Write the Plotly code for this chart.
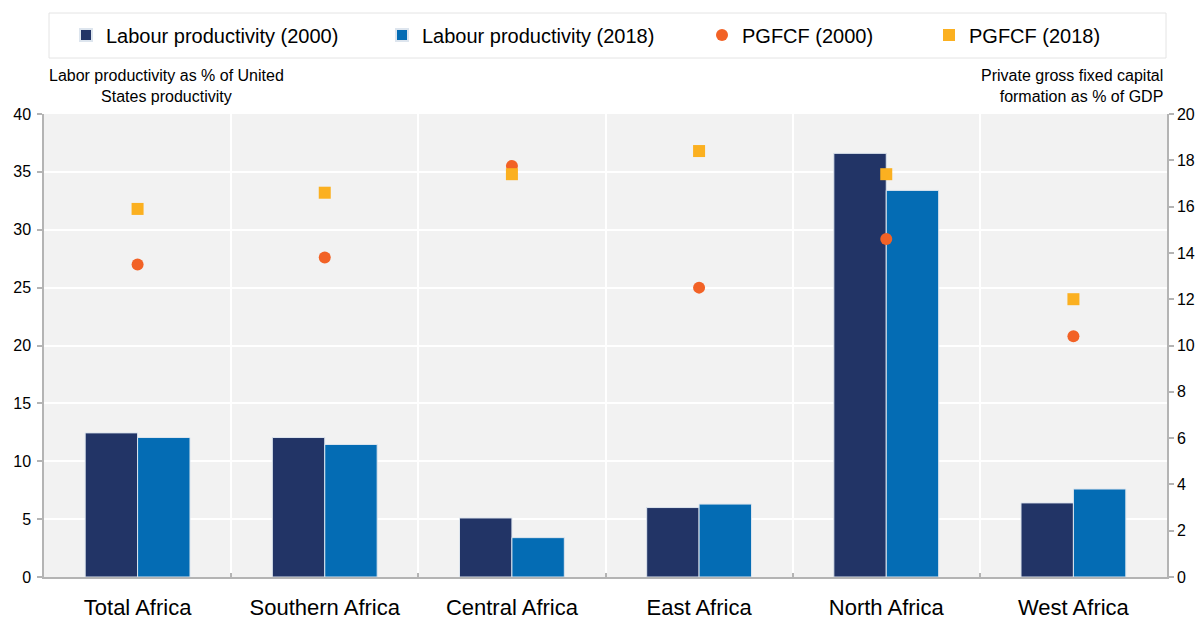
import plotly.graph_objects as go

regions = ["Total Africa", "Southern Africa", "Central Africa", "East Africa", "North Africa", "West Africa"]
labour_2000 = [12.45, 12.05, 5.1, 6.0, 36.6, 6.4]
labour_2018 = [12.05, 11.45, 3.4, 6.3, 33.4, 7.6]
pgfcf_2000 = [13.5, 13.8, 17.75, 12.5, 14.6, 10.4]
pgfcf_2018 = [15.9, 16.6, 17.4, 18.4, 17.4, 12.0]

left_ticks = [0, 5, 10, 15, 20, 25, 30, 35, 40]
right_ticks = [0, 2, 4, 6, 8, 10, 12, 14, 16, 18, 20]

FONT = "Liberation Sans, Arial, sans-serif"
C_2000 = "#223466"
C_2018 = "#046cb4"
C_P2000 = "#f26226"
C_P2018 = "#fbb020"
AXIS = "#b4b4b4"

FIG_W, FIG_H = 1197, 619
# plot area in pixels
L, R, T, B = 44, 1167, 114, 577
W, H = R - L, B - T


def px(x):
    return (x - L) / W


def py(y):
    return (B - y) / H


fig = go.Figure()
fig.add_trace(go.Bar(x=regions, y=labour_2000, name="Labour productivity (2000)",
                     marker=dict(color=C_2000, line=dict(color="#dde5ee", width=1)),
                     legend="legend", showlegend=True))
fig.add_trace(go.Bar(x=regions, y=labour_2018, name="Labour productivity (2018)",
                     marker=dict(color=C_2018, line=dict(color="#dde5ee", width=1)),
                     legend="legend2", showlegend=True))
fig.add_trace(go.Scatter(x=regions, y=pgfcf_2000, name="PGFCF (2000)", mode="markers",
                         marker=dict(color=C_P2000, size=12, symbol="circle"),
                         yaxis="y2", legend="legend3", showlegend=True))
fig.add_trace(go.Scatter(x=regions, y=pgfcf_2018, name="PGFCF (2018)", mode="markers",
                         marker=dict(color=C_P2018, size=12, symbol="square"),
                         yaxis="y2", legend="legend4", showlegend=True))

leg_common = dict(orientation="h", yanchor="middle", xanchor="left",
                  bgcolor="rgba(0,0,0,0)", borderwidth=0,
                  font=dict(family=FONT, size=20, color="#000"),
                  itemsizing="constant")
ly = py(35)
fig.update_layout(
    showlegend=True,
    legend=dict(x=px(106 - 40), y=ly, **leg_common),
    legend2=dict(x=px(422 - 40), y=ly, **leg_common),
    legend3=dict(x=px(742 - 40), y=ly, **leg_common),
    legend4=dict(x=px(969 - 40), y=ly, **leg_common),
)

fig.update_layout(
    width=FIG_W, height=FIG_H,
    margin=dict(l=L, r=FIG_W - R, t=T, b=FIG_H - B, autoexpand=False),
    paper_bgcolor="white",
    plot_bgcolor="#f2f2f2",
    barmode="group",
    bargap=0.44,
    bargroupgap=0,
    font=dict(family=FONT, color="#000"),
    xaxis=dict(type="category", tickson="boundaries", showgrid=True,
               gridcolor="white", gridwidth=2,
               ticks="inside", ticklen=4, tickcolor=AXIS, tickwidth=1.5,
               showline=True, linecolor=AXIS, linewidth=1.5,
               tickfont=dict(size=22, family=FONT, color="#000"),
               ticklabelstandoff=10),
    yaxis=dict(range=[0, 40], tickvals=left_ticks, showgrid=True,
               gridcolor="white", gridwidth=2, zeroline=False,
               ticks="outside", ticklen=5, tickcolor=AXIS, tickwidth=1.5,
               showline=True, linecolor=AXIS, linewidth=1.5,
               tickfont=dict(size=16, family=FONT, color="#000"),
               ticklabelstandoff=3),
    yaxis2=dict(range=[0, 20], tickvals=right_ticks, overlaying="y", side="right",
                showgrid=False, zeroline=False,
                ticks="outside", ticklen=5, tickcolor=AXIS, tickwidth=1.5,
                showline=True, linecolor=AXIS, linewidth=1.5,
                tickfont=dict(size=16, family=FONT, color="#000"),
                ticklabelstandoff=0),
    shapes=[dict(type="rect", xref="paper", yref="paper",
                 x0=px(49), x1=px(1166), y0=py(58), y1=py(13),
                 line=dict(color="#e4e4e4", width=1), fillcolor="rgba(0,0,0,0)",
                 layer="below")],
    annotations=[
        dict(text="Labor productivity as % of United<br>States productivity",
             xref="paper", yref="paper", x=px(166.5), y=py(86),
             xanchor="center", yanchor="middle", align="center", showarrow=False,
             font=dict(size=16, family=FONT, color="#000")),
        dict(text="Private gross fixed capital<br>formation as % of GDP",
             xref="paper", yref="paper", x=px(1165), y=py(86),
             xanchor="right", yanchor="middle", align="right", showarrow=False,
             font=dict(size=16, family=FONT, color="#000")),
    ],
)

fig.write_html(
    "out.html",
    config={"displayModeBar": False},
    post_script="document.body.style.margin='0';document.body.style.overflow='hidden';",
)
